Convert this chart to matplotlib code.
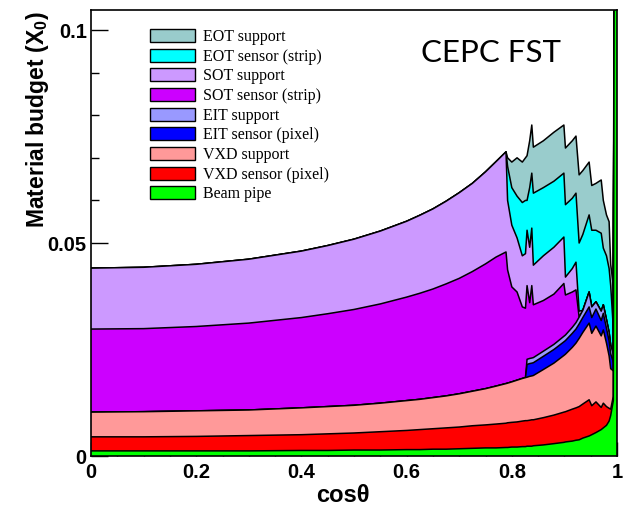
import matplotlib
matplotlib.use("Agg")
import matplotlib.pyplot as plt
from matplotlib.patches import Patch
from matplotlib.ticker import MultipleLocator

# cos(theta) sampling points
cos_theta = [0.0, 0.1, 0.2, 0.3, 0.4, 0.45, 0.5, 0.55, 0.6, 0.625, 0.65, 0.675, 0.7, 0.725,
             0.75, 0.77, 0.789,
             0.792, 0.80, 0.81, 0.82, 0.826, 0.829, 0.834, 0.838, 0.841, 0.86,
             0.88, 0.899, 0.902, 0.915, 0.922, 0.928, 0.935, 0.947, 0.952, 0.96,
             0.970, 0.974, 0.980, 0.985, 0.988, 0.993, 0.996, 1.0]

# stacked (cumulative) material budget, X0, top of each component
eot_support = [0.0441, 0.0443, 0.0450, 0.0462, 0.0481, 0.0494, 0.0509, 0.0528, 0.0551, 0.0565,
               0.0580, 0.0598, 0.0618, 0.0640, 0.0667, 0.0691, 0.0714,
               0.0700, 0.0690, 0.0700, 0.0690, 0.0700, 0.0705, 0.0740, 0.0777, 0.0725, 0.0740,
               0.0760, 0.0777, 0.0723, 0.0740, 0.0751, 0.0660, 0.0670, 0.0690, 0.0635, 0.0640,
               0.0648, 0.0600, 0.0566, 0.0550, 0.0450, 0.0400, 0.2, 0.2]
eot_sensor = [0.0441, 0.0443, 0.0450, 0.0462, 0.0481, 0.0494, 0.0509, 0.0528, 0.0551, 0.0565,
              0.0580, 0.0598, 0.0618, 0.0640, 0.0667, 0.0691, 0.0714,
              0.0680, 0.0630, 0.0610, 0.0595, 0.0600, 0.0600, 0.0630, 0.0664, 0.0617, 0.0630,
              0.0645, 0.0664, 0.0590, 0.0605, 0.0617, 0.0500, 0.0520, 0.0566, 0.0530, 0.0530,
              0.0523, 0.0488, 0.0470, 0.0440, 0.0400, 0.0300, 0.2, 0.2]
sot_support = [0.0441, 0.0443, 0.0450, 0.0462, 0.0481, 0.0494, 0.0509, 0.0528, 0.0551, 0.0565,
               0.0580, 0.0598, 0.0618, 0.0640, 0.0667, 0.0691, 0.0714,
               0.0600, 0.0542, 0.0512, 0.0470, 0.0475, 0.0530, 0.0490, 0.0535, 0.0448, 0.0470,
               0.0490, 0.0514, 0.0420, 0.0440, 0.0455, 0.0340, 0.0342, 0.0385, 0.0350, 0.0362,
               0.0340, 0.0355, 0.0320, 0.0290, 0.0260, 0.0240, 0.2, 0.2]
sot_sensor = [0.0298, 0.0299, 0.0304, 0.0312, 0.0325, 0.0334, 0.0344, 0.0357, 0.0373, 0.0382,
              0.0392, 0.0404, 0.0417, 0.0433, 0.0451, 0.0467, 0.0479,
              0.0437, 0.0397, 0.0385, 0.0350, 0.0347, 0.0400, 0.0360, 0.0400, 0.0355, 0.0365,
              0.0380, 0.0405, 0.0378, 0.0385, 0.0390, 0.0326, 0.0342, 0.0385, 0.0350, 0.0362,
              0.0340, 0.0355, 0.0320, 0.0290, 0.0260, 0.0240, 0.2, 0.2]
eit_support = [0.0103, 0.0104, 0.0106, 0.0108, 0.0113, 0.0116, 0.0119, 0.0124, 0.0130, 0.0133,
               0.0137, 0.0141, 0.0146, 0.0152, 0.0158, 0.0164, 0.0170,
               0.0171, 0.0174, 0.0178, 0.0182, 0.0184, 0.0227, 0.0229, 0.0230, 0.0231, 0.0246,
               0.0262, 0.0281, 0.0284, 0.0302, 0.0313, 0.0326, 0.0342, 0.0385, 0.0350, 0.0362,
               0.0340, 0.0355, 0.0320, 0.0290, 0.0260, 0.0240, 0.2, 0.2]
eit_sensor = [0.0103, 0.0104, 0.0106, 0.0108, 0.0113, 0.0116, 0.0119, 0.0124, 0.0130, 0.0133,
              0.0137, 0.0141, 0.0146, 0.0152, 0.0158, 0.0164, 0.0170,
              0.0171, 0.0174, 0.0178, 0.0182, 0.0184, 0.0215, 0.0217, 0.0218, 0.0219, 0.0234,
              0.0250, 0.0268, 0.0271, 0.0288, 0.0298, 0.0310, 0.0325, 0.0350, 0.0325, 0.0345,
              0.0318, 0.0335, 0.0300, 0.0270, 0.0240, 0.0220, 0.2, 0.2]
vxd_support = [0.0103, 0.0104, 0.0106, 0.0108, 0.0113, 0.0116, 0.0119, 0.0124, 0.0130, 0.0133,
               0.0137, 0.0141, 0.0146, 0.0152, 0.0158, 0.0164, 0.0170,
               0.0171, 0.0174, 0.0178, 0.0182, 0.0184, 0.0185, 0.0187, 0.0188, 0.0189, 0.0203,
               0.0218, 0.0236, 0.0239, 0.0255, 0.0265, 0.0276, 0.0290, 0.0312, 0.0288, 0.0305,
               0.0282, 0.0296, 0.0265, 0.0235, 0.0205, 0.0200, 0.2, 0.2]
vxd_sensor = [0.0045, 0.0045, 0.0046, 0.0048, 0.0050, 0.0052, 0.0054, 0.0057, 0.0060, 0.0062,
              0.0064, 0.0066, 0.0068, 0.0071, 0.0073, 0.0075, 0.0077,
              0.0078, 0.0079, 0.0080, 0.0082, 0.0083, 0.0083, 0.0084, 0.0085, 0.0085, 0.0090,
              0.0096, 0.0103, 0.0104, 0.0110, 0.0113, 0.0116, 0.0122, 0.0132, 0.0118, 0.0127,
              0.0114, 0.0124, 0.0116, 0.0112, 0.0110, 0.0140, 0.2, 0.2]
beam_pipe = [0.0012, 0.0012, 0.0012, 0.0012, 0.0013, 0.0013, 0.0014, 0.0014, 0.0015, 0.0015,
             0.0016, 0.0016, 0.0017, 0.0018, 0.0019, 0.0019, 0.0020,
             0.0020, 0.0021, 0.0021, 0.0022, 0.0022, 0.0023, 0.0023, 0.0023, 0.0024, 0.0026,
             0.0029, 0.0032, 0.0033, 0.0035, 0.0037, 0.0038, 0.0042, 0.0047, 0.0050, 0.0055,
             0.0062, 0.0066, 0.0072, 0.0082, 0.0095, 0.0130, 0.2, 0.2]

labels = ["EOT support", "EOT sensor (strip)", "SOT support", "SOT sensor (strip)",
          "EIT support", "EIT sensor (pixel)", "VXD support", "VXD sensor (pixel)", "Beam pipe"]
colors = ["#99cccc", "#00ffff", "#cc99ff", "#cc00ff", "#9999ff",
          "#0000ff", "#ff9999", "#ff0000", "#00ff00"]
layers = [eot_support, eot_sensor, sot_support, sot_sensor, eit_support,
          eit_sensor, vxd_support, vxd_sensor, beam_pipe]

plt.rcParams['font.family'] = ['Liberation Sans', 'DejaVu Sans']
plt.rcParams['mathtext.fontset'] = 'custom'
plt.rcParams['mathtext.rm'] = 'Liberation Sans:bold'
plt.rcParams['mathtext.bf'] = 'Liberation Sans:bold'

fig = plt.figure(figsize=(6.26, 5.11), dpi=100)
ax = fig.add_axes([91 / 626, 1 - 456 / 511, 526 / 626, 446 / 511])

# draw like a ROOT THStack: largest sum first, each filled from zero
for top, col in zip(layers, colors):
    ax.fill_between(cos_theta, 0, top, facecolor=col, edgecolor='none', zorder=2)
    ax.plot(cos_theta, top, color='k', lw=1.1, zorder=2)

ax.set_xlim(0, 1)
ax.set_ylim(0, 0.1047)

ax.xaxis.set_major_locator(MultipleLocator(0.2))
ax.xaxis.set_minor_locator(MultipleLocator(0.05))
ax.yaxis.set_major_locator(MultipleLocator(0.05))
ax.yaxis.set_minor_locator(MultipleLocator(0.01))
ax.set_xticks([0, 0.2, 0.4, 0.6, 0.8, 1.0])
ax.set_xticklabels(["0", "0.2", "0.4", "0.6", "0.8", "1"])
ax.set_yticks([0, 0.05, 0.1])
ax.set_yticklabels(["0", "0.05", "0.1"])
ax.tick_params(axis='both', which='both', direction='in', top=False, right=False,
               labelsize=14.5, width=1, zorder=5)
ax.tick_params(axis='x', which='major', length=10, pad=5)
ax.tick_params(axis='x', which='minor', length=5)
ax.tick_params(axis='y', which='major', length=12, pad=3)
ax.tick_params(axis='y', which='minor', length=6)
for lab in ax.get_xticklabels() + ax.get_yticklabels():
    lab.set_fontweight('bold')
for sp in ax.spines.values():
    sp.set_linewidth(1.2)
    sp.set_zorder(6)

fig.text(343 / 626, 1 - 495 / 511, "cosθ", ha='center', va='center',
         fontsize=17, fontweight='bold')
fig.text(38 / 626, 1 - 120 / 511, r"Material budget (X$_0$)", rotation=90,
         ha='center', va='center', fontsize=16.5, fontweight='bold')

ax.text(0.628, 0.0925, "CEPC FST", fontsize=22.5, family='Lato', va='baseline', ha='left')

handles = [Patch(facecolor=c, edgecolor='k', linewidth=1) for c in colors]
ax.legend(handles, labels, loc='upper left', bbox_to_anchor=(150 / 626, 1 - 29 / 511),
          bbox_transform=fig.transFigure, frameon=False, borderpad=0, borderaxespad=0,
          handlelength=2.8, handleheight=0.85, handletextpad=0.5, labelspacing=0.23,
          prop={'family': 'Liberation Serif', 'size': 11.5})

fig.savefig("out.png", dpi=100)
